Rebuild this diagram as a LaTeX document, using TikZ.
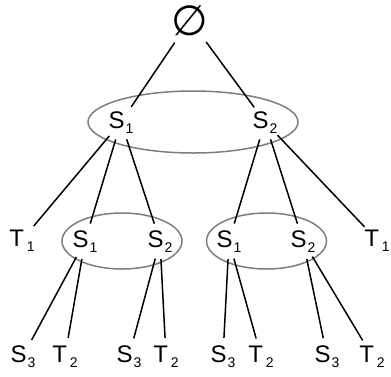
\documentclass[tikz,border=0pt]{standalone}
\usepackage{fontspec}
\setmainfont{Liberation Sans}
\newfontfamily\symfont{DejaVu Sans}
\usetikzlibrary{shapes.geometric}
\definecolor{grpgray}{RGB}{125,125,125}
\newcommand{\lbl}[3][1pt]{#2\kern#1\raisebox{-5pt}{\fontsize{14}{14}\selectfont #3}}
\begin{document}
\begin{tikzpicture}[x=1pt,y=-1pt,
  lab/.style={circle,inner sep=0pt,minimum size=36pt,font=\fontsize{24}{24}\selectfont,text height=14pt,text depth=2pt},
  rootlab/.style={circle,inner sep=0pt,minimum size=54pt,font=\symfont\fontsize{42}{42}\selectfont,text height=31pt,text depth=0pt},
  grp/.style={ellipse,draw=grpgray,line width=1.5pt,inner sep=0pt},
  edge/.style={line width=1.5pt,black}]
\useasboundingbox (0,0) rectangle (391,376);
% groups
\node[grp,minimum width=210pt,minimum height=62pt] (g1) at (193,122) {};
\node[grp,minimum width=120pt,minimum height=56pt] (g2) at (122,241) {};
\node[grp,minimum width=120pt,minimum height=56pt] (g3) at (266.5,241) {};
% labels
\node[rootlab] (root) at (190,20) {∅};
\node[lab] (a1) at (121,122) {\lbl{S}{1}};
\node[lab] (a2) at (265,122) {\lbl{S}{2}};
\node[lab] (t1L) at (22,240) {\lbl[3pt]{T}{1}};
\node[lab] (b1) at (85,241) {\lbl{S}{1}};
\node[lab] (b2) at (160,241) {\lbl{S}{2}};
\node[lab] (b3) at (229,241) {\lbl{S}{1}};
\node[lab] (b4) at (303,241) {\lbl{S}{2}};
\node[lab] (t1R) at (377,240) {\lbl[3pt]{T}{1}};
\node[lab] (c1) at (23,356) {\lbl{S}{3}};
\node[lab] (c2) at (65,356) {\lbl[3pt]{T}{2}};
\node[lab] (c3) at (129,356) {\lbl{S}{3}};
\node[lab] (c4) at (166,356) {\lbl[3pt]{T}{2}};
\node[lab] (c5) at (223,356) {\lbl{S}{3}};
\node[lab] (c6) at (261,356) {\lbl[3pt]{T}{2}};
\node[lab] (c7) at (327,356) {\lbl{S}{3}};
\node[lab] (c8) at (372,356) {\lbl[3pt]{T}{2}};
% edges
\draw[edge] (root) -- (a1);
\draw[edge] (root) -- (a2);
\draw[edge] (a1) -- (t1L);
\draw[edge] (a1) -- (b1);
\draw[edge] (a1) -- (b2);
\draw[edge] (a2) -- (b3);
\draw[edge] (a2) -- (b4);
\draw[edge] (a2) -- (t1R);
\draw[edge] (b1) -- (c1);
\draw[edge] (b1) -- (c2);
\draw[edge] (b2) -- (c3);
\draw[edge] (b2) -- (c4);
\draw[edge] (b3) -- (c5);
\draw[edge] (b3) -- (c6);
\draw[edge] (b4) -- (c7);
\draw[edge] (b4) -- (c8);
\end{tikzpicture}
\end{document}
